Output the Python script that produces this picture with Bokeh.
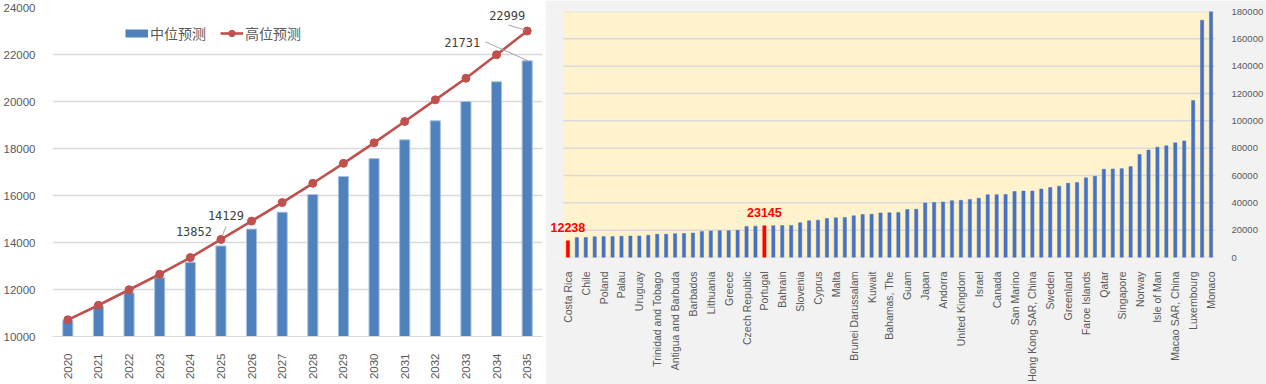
import math
from bokeh.plotting import figure
from bokeh.models import (ColumnDataSource, FixedTicker, Range1d, LabelSet,
                          NumeralTickFormatter)
from bokeh.layouts import row
from bokeh.embed import file_html
from bokeh.resources import INLINE
from bokeh.core.properties import value

# ---------------- data: left chart ----------------
years = list(range(2020, 2036))
median_forecast = [10680, 11280, 11860, 12500, 13160, 13852, 14570, 15290,
                   16040, 16810, 17570, 18370, 19180, 20000, 20840, 21731]
high_forecast = [10710, 11330, 11990, 12650, 13360, 14129, 14910, 15700,
                 16520, 17370, 18240, 19150, 20070, 20990, 21990, 22999]
series_names = ["中位预测", "高位预测"]
left_y_ticks = list(range(10000, 24001, 2000))

# ---------------- data: right chart ----------------
labelled_countries = ["Costa Rica", "Chile", "Poland", "Palau", "Uruguay",
                      "Trinidad and Tobago", "Antigua and Barbuda", "Barbados",
                      "Lithuania", "Greece", "Czech Republic", "Portugal", "Bahrain",
                      "Slovenia", "Cyprus", "Malta", "Brunei Darussalam", "Kuwait",
                      "Bahamas, The", "Guam", "Japan", "Andorra", "United Kingdom",
                      "Israel", "Canada", "San Marino", "Hong Kong SAR, China",
                      "Sweden", "Greenland", "Faroe Islands", "Qatar", "Singapore",
                      "Norway", "Isle of Man", "Macao SAR, China", "Luxembourg", "Monaco"]
gdp_per_capita = [12238, 14560, 14600, 15250, 15300, 15350, 15500, 15700, 15750, 16250,
                  16950, 17000, 17450, 17500, 17900, 19100, 19350, 19550, 19600, 19850,
                  22750, 22950, 23145, 23300, 23350, 23450, 25400, 26900, 27300, 28500,
                  29000, 29300, 30500, 31400, 31700, 32600, 32700, 32900, 35100, 35300,
                  39900, 40200, 40600, 41600, 41800, 42500, 43300, 45900, 46000, 46100,
                  48300, 48600, 48650, 50100, 51200, 52200, 54400, 54900, 58300, 59500,
                  64600, 64800, 65000, 66500, 75400, 78600, 80700, 81700, 83900, 85300,
                  114800, 173600, 180000]
highlighted = ["Costa Rica", "Portugal"]
right_y_ticks = list(range(0, 180001, 20000))

GRAY_TXT = "#595959"
GRID = "#d9d9d9"

# ================= LEFT FIGURE =================
left = figure(width=545, height=384, output_backend="svg", toolbar_location=None,
              x_range=Range1d(2019.5, 2035.5), y_range=Range1d(10000, 24000),
              min_border_left=50, min_border_right=3, min_border_top=7,
              min_border_bottom=48, background_fill_color="white",
              border_fill_color="white", outline_line_color=None)

src_l = ColumnDataSource(dict(year=years, med=median_forecast, high=high_forecast))
left.vbar(x="year", top="med", bottom=10000, width=0.33, source=src_l,
          fill_color="#4f81bd", line_color="#a7c1e0", line_width=1)
# legend-only proxy for the bar series (a thick short line looks like the Excel swatch)
left.line(x=[years[0]], y=[0], line_color="#4f81bd", line_width=8,
          legend_label=series_names[0])
left.line(x="year", y="high", source=src_l, line_color="#c0504d", line_width=2.6,
          legend_label=series_names[1])
left.scatter(x="year", y="high", source=src_l, size=8, marker="circle",
             fill_color="#c0504d", line_color="#c0504d", legend_label=series_names[1])

lg = left.legend[0]
lg.orientation = "horizontal"
lg.location = (73, 293)
lg.glyph_width = 23
lg.glyph_height = 16
lg.label_height = 16
lg.label_standoff = 2
lg.spacing = 14
lg.padding = 0
lg.margin = 0
lg.label_text_font = "Noto Sans CJK SC"
lg.label_text_font_size = "14px"
lg.label_text_color = GRAY_TXT
lg.border_line_color = None
lg.background_fill_alpha = 0

# data labels
i25 = years.index(2025)
i35 = years.index(2035)
lab_x = [years[i25], years[i25], years[i35], years[i35]]
lab_y = [median_forecast[i25], high_forecast[i25], median_forecast[i35], high_forecast[i35]]
lab_src = ColumnDataSource(dict(x=lab_x, y=lab_y, t=[str(v) for v in lab_y],
                                dx=[-27, 5, -65, -20], dy=[14, 24, 18, 16]))
left.add_layout(LabelSet(x="x", y="y", text="t", x_offset="dx", y_offset="dy",
                         source=lab_src, text_align="center", text_baseline="middle",
                         text_font=value("DejaVu Sans Mono"), text_font_size="12px",
                         text_color="#404040"))

# leader lines (pixel offsets converted to data units; dy up positive)
px_x = 16 / 492.0
px_y = 14000 / 329.0
lead = [  # (label index, start dx, start dy, end dx, end dy) in px
    (1, 1.5, 4, 5, 13),
    (3, -19, 6, -2, 1),
    (2, -42, 19, 1, 0),
]
left.segment(x0=[lab_x[k] + a * px_x for k, a, b, c, d in lead],
             y0=[lab_y[k] + b * px_y for k, a, b, c, d in lead],
             x1=[lab_x[k] + c * px_x for k, a, b, c, d in lead],
             y1=[lab_y[k] + d * px_y for k, a, b, c, d in lead],
             line_color="#a6a6a6", line_width=1)

left.xaxis.ticker = FixedTicker(ticks=years)
left.xaxis.major_label_orientation = math.pi / 2
left.xaxis.major_label_text_font = "Liberation Sans"
left.xaxis.major_label_text_font_size = "11.5px"
left.xaxis.major_label_text_color = GRAY_TXT
left.xaxis.major_tick_line_color = None
left.xaxis.minor_tick_line_color = None
left.xaxis.axis_line_color = GRID
left.xaxis.major_label_standoff = 11

left.yaxis.ticker = FixedTicker(ticks=left_y_ticks)
left.yaxis.formatter = NumeralTickFormatter(format="0")
left.yaxis.major_label_text_font = "Liberation Sans"
left.yaxis.major_label_text_font_size = "11.5px"
left.yaxis.major_label_text_color = GRAY_TXT
left.yaxis.major_tick_line_color = None
left.yaxis.minor_tick_line_color = None
left.yaxis.axis_line_color = None
left.yaxis.major_label_standoff = 11

left.xgrid.grid_line_color = None
left.ygrid.grid_line_color = GRID
left.ygrid.grid_line_width = 1.5
left.ygrid.ticker = FixedTicker(ticks=left_y_ticks)

# ================= RIGHT FIGURE =================
n = len(gdp_per_capita)
idx = list(range(n))
tick_pos = idx[::2]
names_at = {tick_pos[i]: labelled_countries[i] for i in range(len(labelled_countries))}
hl_idx = [tick_pos[labelled_countries.index(h)] for h in highlighted]
colors = ["#ff0000" if i in hl_idx else "#4472c4" for i in idx]

unit_px = 655.0 / n          # width of one category in pixels
extra = 16.0 / unit_px       # grey margin left of the yellow area (room for the label)
right = figure(width=721, height=384, output_backend="svg", toolbar_location=None,
               x_range=Range1d(-0.5 - extra, n - 0.5), y_range=Range1d(0, 180000),
               y_axis_location="right",
               min_border_left=2, min_border_right=48, min_border_top=11,
               min_border_bottom=125, background_fill_color="#f2f2f2",
               border_fill_color="#f2f2f2", outline_line_color=None)
# yellow plot area + gridlines drawn over the category span only
right.quad(left=-0.5, right=n - 0.5, bottom=0, top=right_y_ticks[-1],
           fill_color="#fff2cc", line_color=None)
right.segment(x0=[-0.5] * len(right_y_ticks), x1=[n - 0.5] * len(right_y_ticks),
              y0=right_y_ticks, y1=right_y_ticks, line_color=GRID, line_width=1.5)

src_r = ColumnDataSource(dict(x=idx, v=gdp_per_capita, c=colors))
right.vbar(x="x", top="v", bottom=0, width=0.36, source=src_r,
           fill_color="c", line_color="c", line_width=0.5)

hl_src = ColumnDataSource(dict(x=hl_idx, y=[gdp_per_capita[i] for i in hl_idx],
                               t=[str(gdp_per_capita[i]) for i in hl_idx]))
right.add_layout(LabelSet(x="x", y="y", text="t", source=hl_src, y_offset=9,
                          text_align="center", text_baseline="bottom",
                          text_font=value("Liberation Sans"), text_font_style="bold",
                          text_font_size="12.5px", text_color="#ff0000"))

right.xaxis.ticker = FixedTicker(ticks=tick_pos)
right.xaxis.major_label_overrides = names_at
right.xaxis.major_label_orientation = math.pi / 2
right.xaxis.major_label_text_font = "Liberation Sans"
right.xaxis.major_label_text_font_size = "10.5px"
right.xaxis.major_label_text_color = GRAY_TXT
right.xaxis.major_tick_line_color = None
right.xaxis.minor_tick_line_color = None
right.xaxis.axis_line_color = None
right.xaxis.major_label_standoff = 8

right.yaxis.ticker = FixedTicker(ticks=right_y_ticks)
right.yaxis.formatter = NumeralTickFormatter(format="0")
right.yaxis.major_label_text_font = "Liberation Sans"
right.yaxis.major_label_text_font_size = "9.5px"
right.yaxis.major_label_text_color = GRAY_TXT
right.yaxis.major_tick_line_color = None
right.yaxis.minor_tick_line_color = None
right.yaxis.axis_line_color = None
right.yaxis.major_label_standoff = 10

right.xgrid.grid_line_color = None
right.ygrid.grid_line_color = None

for f in (left, right):
    try:
        f.frame_align = False
    except Exception:
        pass

layout = row(left, right, spacing=0)
open("out.html", "w").write(file_html(layout, INLINE))
